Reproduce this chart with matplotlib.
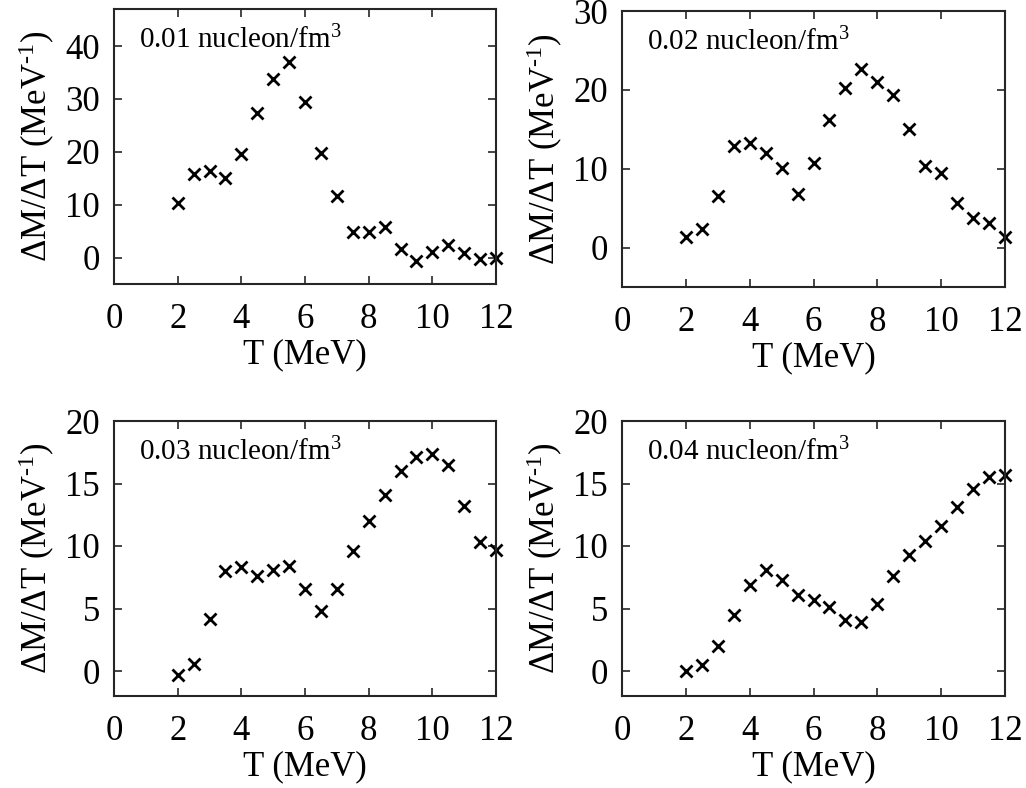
import matplotlib
matplotlib.use("Agg")
import matplotlib.pyplot as plt

plt.rcParams['font.family'] = ['Liberation Serif', 'DejaVu Serif']
plt.rcParams['mathtext.fontset'] = 'custom'
plt.rcParams['mathtext.rm'] = 'Liberation Serif'
plt.rcParams['mathtext.it'] = 'Liberation Serif:italic'

T = [2, 2.5, 3, 3.5, 4, 4.5, 5, 5.5, 6, 6.5, 7, 7.5, 8, 8.5, 9, 9.5, 10, 10.5, 11, 11.5, 12]

dm_001 = [10.4, 15.8, 16.3, 15.1, 19.6, 27.4, 33.7, 36.9, 29.5, 19.8, 11.7,
          4.9, 4.9, 5.8, 1.7, -0.7, 1.0, 2.4, 0.8, -0.3, 0.0]
dm_002 = [1.3, 2.4, 6.5, 12.9, 13.2, 12.0, 10.1, 6.8, 10.7, 16.2, 20.2,
          22.7, 21.0, 19.4, 15.0, 10.4, 9.4, 5.7, 3.7, 3.1, 1.4]
dm_003 = [-0.3, 0.56, 4.2, 8.0, 8.3, 7.6, 8.1, 8.4, 6.6, 4.8, 6.6,
          9.6, 12.0, 14.1, 16.0, 17.1, 17.4, 16.5, 13.2, 10.3, 9.7]
dm_004 = [0.0, 0.5, 2.0, 4.5, 6.9, 8.1, 7.3, 6.1, 5.7, 5.1, 4.1,
          3.9, 5.4, 7.6, 9.3, 10.4, 11.6, 13.1, 14.6, 15.5, 15.7]

labels = ['0.01 nucleon/fm$^{3}$', '0.02 nucleon/fm$^{3}$',
          '0.03 nucleon/fm$^{3}$', '0.04 nucleon/fm$^{3}$']
series = [dm_001, dm_002, dm_003, dm_004]
ylims = [(-5, 47), (-5, 30), (-2, 20), (-2, 20)]
yticks = [[0, 10, 20, 30, 40], [0, 10, 20, 30], [0, 5, 10, 15, 20], [0, 5, 10, 15, 20]]

W, H = 1026, 788
# axes boxes in pixels: left, top, right, bottom
boxes = [(114, 9, 496, 284), (622, 11, 1005, 287),
         (114, 421, 496, 696), (622, 421, 1005, 696)]

fig = plt.figure(figsize=(W / 100, H / 100), dpi=100)
edge = '#262626'

for box, y, lab, yl, yt in zip(boxes, series, labels, ylims, yticks):
  l, t, r, b = box
  ax = fig.add_axes([l / W, 1 - b / H, (r - l) / W, (b - t) / H])
  ax.plot(T, y, 'x', color='black', markersize=9, markeredgewidth=2, clip_on=False)
  ax.set_xlim(0, 12)
  ax.set_ylim(*yl)
  ax.set_xticks([0, 2, 4, 6, 8, 10, 12])
  ax.set_yticks(yt)
  ax.tick_params(axis='both', direction='in', top=True, right=True, labelsize=25,
                 length=6, width=1.2, color=edge)
  ax.tick_params(axis='x', pad=14)
  ax.tick_params(axis='y', pad=10)
  for s in ax.spines.values():
    s.set_linewidth(1.5)
    s.set_color(edge)
  ax.set_xlabel('T (MeV)', fontsize=25, labelpad=1)
  ax.set_ylabel('ΔM/ΔT (MeV$^{\\text{-1}}$)', fontsize=25, labelpad=6)
  ax.text(0.065, 0.94, lab, transform=ax.transAxes, fontsize=21,
          va='top', ha='left')

fig.savefig('out.png', dpi=100)
